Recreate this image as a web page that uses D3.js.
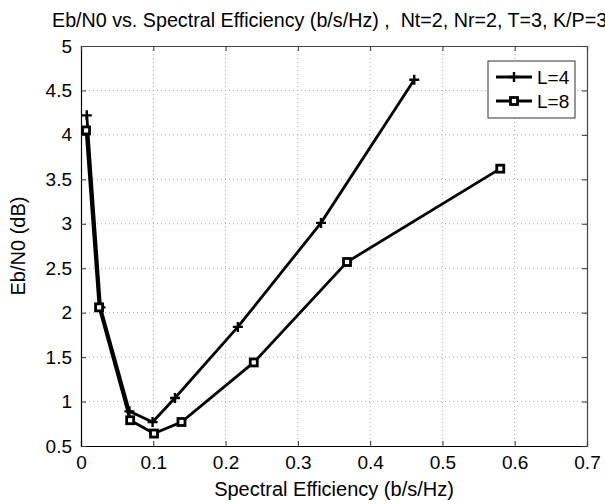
<!DOCTYPE html>
<html>
<head>
<meta charset="utf-8">
<script src="https://cdn.jsdelivr.net/npm/d3@7"></script>
<style>
  body { margin: 0; background: #fff; }
  svg { display: block; font-family: "Liberation Sans", Arial, sans-serif; }
</style>
</head>
<body>
<svg id="chart" width="605" height="504"></svg>
<script>
// data
var specEffL4 = [0.008, 0.027, 0.067, 0.099, 0.130, 0.217, 0.332, 0.461];
var ebn0L4 = [4.22, 2.06, 0.89, 0.77, 1.04, 1.84, 3.01, 4.62];
var specEffL8 = [0.007, 0.025, 0.068, 0.101, 0.139, 0.239, 0.368, 0.580];
var ebn0L8 = [4.05, 2.06, 0.79, 0.64, 0.77, 1.44, 2.57, 3.62];
var xTicks = [0, 0.1, 0.2, 0.3, 0.4, 0.5, 0.6, 0.7];
var yTicks = [0.5, 1, 1.5, 2, 2.5, 3, 3.5, 4, 4.5, 5];
var seriesNames = ['L=4', 'L=8'];

var svg = d3.select('#chart');
// plot box (window.top is reserved, so use other names)
var pLeft = 81, pRight = 587, pTop = 46, pBottom = 446;

var x = d3.scaleLinear().domain([0, 0.7]).range([pLeft, pRight]);
var y = d3.scaleLinear().domain([0.5, 5]).range([pBottom, pTop]);

// grid
var grid = svg.append('g');
grid.selectAll('line.gx')
    .data(xTicks.slice(1, -1))
  .enter().append('line')
    .attr('x1', function(d) { return x(d); })
    .attr('x2', function(d) { return x(d); })
    .attr('y1', pTop).attr('y2', pBottom)
    .attr('stroke', '#aaa').attr('stroke-dasharray', '1,3');
grid.selectAll('line.gy')
    .data(yTicks.slice(1, -1))
  .enter().append('line')
    .attr('y1', function(d) { return y(d); })
    .attr('y2', function(d) { return y(d); })
    .attr('x1', pLeft).attr('x2', pRight)
    .attr('stroke', '#aaa').attr('stroke-dasharray', '1,3');

// axes, ticks pointing inward, mirrored on top/right
var xAxis = d3.axisBottom(x).tickValues(xTicks).tickSize(-5).tickPadding(10)
    .tickFormat(function(d) { return d === 0 ? '0' : d3.format('.1f')(d); });
var yAxis = d3.axisLeft(y).tickValues(yTicks).tickSize(-5).tickPadding(9)
    .tickFormat(function(d) { return String(d); });

var gx = svg.append('g').attr('transform', 'translate(0,' + pBottom + ')').call(xAxis);
var gy = svg.append('g').attr('transform', 'translate(' + pLeft + ',0)').call(yAxis);
svg.append('g').attr('transform', 'translate(0,' + pTop + ')')
    .call(d3.axisTop(x).tickValues(xTicks).tickSize(-5).tickFormat(''));
svg.append('g').attr('transform', 'translate(' + pRight + ',0)')
    .call(d3.axisRight(y).tickValues(yTicks).tickSize(-5).tickFormat(''));

svg.selectAll('.domain').attr('stroke', '#444').attr('stroke-width', 1.2);
svg.selectAll('.tick line').attr('stroke', '#333');
svg.selectAll('.tick text').attr('font-size', 19).attr('fill', '#000')
    .attr('font-family', '"Liberation Sans", Arial, sans-serif');
gx.select('.domain').attr('stroke', '#000');
gy.select('.domain').attr('stroke', '#000');

// lines
var line = d3.line()
    .x(function(d) { return x(d[0]); })
    .y(function(d) { return y(d[1]); });

var dataL4 = d3.zip(specEffL4, ebn0L4);
var dataL8 = d3.zip(specEffL8, ebn0L8);

svg.append('path').datum(dataL4).attr('d', line)
    .attr('fill', 'none').attr('stroke', '#000').attr('stroke-width', 2.8);
svg.append('path').datum(dataL8).attr('d', line)
    .attr('fill', 'none').attr('stroke', '#000').attr('stroke-width', 2.8);

function drawPlus(g, cx, cy) {
  g.append('path')
    .attr('d', 'M' + (cx - 5) + ',' + cy + 'H' + (cx + 5) + 'M' + cx + ',' + (cy - 5) + 'V' + (cy + 5))
    .attr('stroke', '#000').attr('stroke-width', 2.4).attr('fill', 'none');
}
function drawSquare(g, cx, cy) {
  g.append('rect')
    .attr('x', cx - 3.5).attr('y', cy - 3.5).attr('width', 7).attr('height', 7)
    .attr('fill', '#fff').attr('stroke', '#000').attr('stroke-width', 2.8);
}

var marks = svg.append('g');
dataL4.forEach(function(d) { drawPlus(marks, x(d[0]), y(d[1])); });
dataL8.forEach(function(d) { drawSquare(marks, x(d[0]), y(d[1])); });

// legend
var lg = svg.append('g');
lg.append('rect').attr('x', 488).attr('y', 61).attr('width', 87).attr('height', 57)
    .attr('fill', '#fff').attr('stroke', '#333').attr('stroke-width', 1);
var legY = [77, 101];
seriesNames.forEach(function(name, i) {
  lg.append('line').attr('x1', 496).attr('x2', 532).attr('y1', legY[i]).attr('y2', legY[i])
      .attr('stroke', '#000').attr('stroke-width', 2.8);
  if (i === 0) drawPlus(lg, 514, legY[i]); else drawSquare(lg, 514, legY[i]);
  lg.append('text').attr('x', 537).attr('y', legY[i] + 7).attr('font-size', 19)
      .text(name);
});

// labels
svg.append('text').attr('x', 52).attr('y', 27).attr('font-size', 19.7)
    .style('white-space', 'pre')
    .text('Eb/N0 vs. Spectral Efficiency (b/s/Hz) ,  Nt=2, Nr=2, T=3, K/P=3');
svg.append('text').attr('x', (pLeft + pRight) / 2).attr('y', 496)
    .attr('text-anchor', 'middle').attr('font-size', 20)
    .text('Spectral Efficiency (b/s/Hz)');
svg.append('text')
    .attr('transform', 'translate(25,' + ((pTop + pBottom) / 2) + ') rotate(-90)')
    .attr('text-anchor', 'middle').attr('font-size', 20)
    .text('Eb/N0 (dB)');
</script>
</body>
</html>
